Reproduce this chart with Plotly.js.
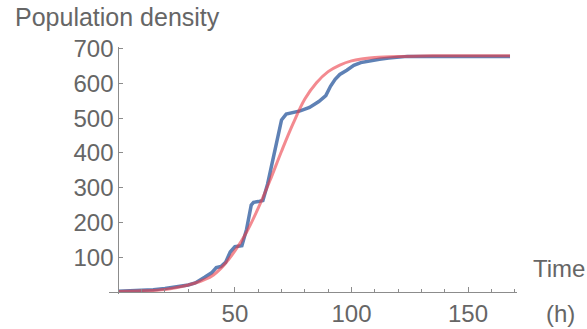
<!DOCTYPE html>
<html>
<head>
<meta charset="utf-8">
<script src="https://cdn.plot.ly/plotly-3.0.1.min.js"></script>
<style>html,body{margin:0;padding:0;background:#fff;}#chart{width:587px;height:329px;}</style>
</head>
<body>
<div id="chart"></div>
<script>
// Observed population density (blue, stepwise data)
const dataTime = [0, 5, 10, 15, 20, 25, 30, 33, 35, 37, 40, 42, 44, 46, 48, 50, 53, 55, 57, 58, 60, 62, 64, 66, 68, 70, 72, 75, 78, 82, 86, 89, 91, 93, 95, 98, 101, 104, 108, 112, 116, 120, 124, 140, 155, 168];
const dataDensity = [2, 3, 4, 6, 10, 14, 20, 26, 33, 42, 55, 70, 73, 85, 115, 130, 133, 180, 250, 258, 260, 263, 310, 370, 437, 495, 512, 517, 521, 531, 548, 565, 592, 612, 626, 638, 652, 660, 666, 670, 673, 675, 678, 678, 678, 678];
// Fitted curve (red)
const fitTime = [0, 10, 20, 30, 35, 40, 45, 50, 55, 60, 65, 70, 75, 80, 85, 90, 95, 100, 105, 110, 120, 130, 140, 150, 168];
const fitDensity = [1, 3, 7, 20, 30, 45, 75, 118, 172, 241, 320, 405, 485, 555, 602, 634, 653, 665, 671, 675, 678, 679, 680, 680, 680];
// Tick labels
const xTicks = [50, 100, 150];
const yTicks = [100, 200, 300, 400, 500, 600, 700];

const xRange = [-4, 171];
const yRange = [-6, 705];

const textColor = '#666666';
const axisColor = '#8c8c8c';
const fontFam = '"Liberation Sans", Arial, sans-serif';

const traces = [
  {x: dataTime, y: dataDensity, type: 'scatter', mode: 'lines',
   line: {color: '#5E81B5', width: 3.5}, hoverinfo: 'skip'},
  {x: fitTime, y: fitDensity, type: 'scatter', mode: 'lines',
   line: {color: 'rgba(235,60,70,0.6)', width: 3, shape: 'spline'}, hoverinfo: 'skip'}
];

const layout = {
  width: 587, height: 329,
  margin: {l: 109, r: 70, t: 47, b: 35},
  paper_bgcolor: '#fff', plot_bgcolor: '#fff',
  showlegend: false,
  font: {family: fontFam, color: textColor, size: 24},
  xaxis: {
    range: xRange, anchor: 'free',
    position: (0 - yRange[0]) / (yRange[1] - yRange[0]),
    showgrid: false, zeroline: false,
    showline: true, linecolor: axisColor, linewidth: 1,
    tickmode: 'array', tickvals: xTicks, ticktext: xTicks.map(String),
    ticks: 'inside', ticklen: 5, tickcolor: axisColor, tickwidth: 1,
    minor: {dtick: 10, tick0: 0, ticks: 'inside', ticklen: 3, tickcolor: axisColor, tickwidth: 1, showgrid: false},
    tickfont: {family: fontFam, size: 24, color: textColor}
  },
  yaxis: {
    range: yRange, anchor: 'free',
    position: (0 - xRange[0]) / (xRange[1] - xRange[0]),
    showgrid: false, zeroline: false,
    showline: true, linecolor: axisColor, linewidth: 1,
    tickmode: 'array', tickvals: yTicks, ticktext: yTicks.map(String),
    ticks: 'inside', ticklen: 4, tickcolor: axisColor, tickwidth: 1,
    tickfont: {family: fontFam, size: 24, color: textColor}
  },
  annotations: [
    {text: 'Population density', xref: 'paper', yref: 'paper', x: (13 - 109) / 408, y: 1 + (47 - 17) / 247,
     xanchor: 'left', yanchor: 'middle', showarrow: false, font: {family: fontFam, size: 25, color: textColor}},
    {text: 'Time', xref: 'paper', yref: 'paper', x: (559 - 109) / 408, y: (294 - 268) / 247,
     xanchor: 'center', yanchor: 'middle', showarrow: false, font: {family: fontFam, size: 24, color: textColor}},
    {text: '(h)', xref: 'paper', yref: 'paper', x: (560 - 109) / 408, y: (294 - 313) / 247,
     xanchor: 'center', yanchor: 'middle', showarrow: false, font: {family: fontFam, size: 24, color: textColor}}
  ]
};

Plotly.newPlot('chart', traces, layout, {staticPlot: true, displayModeBar: false});
</script>
</body>
</html>
